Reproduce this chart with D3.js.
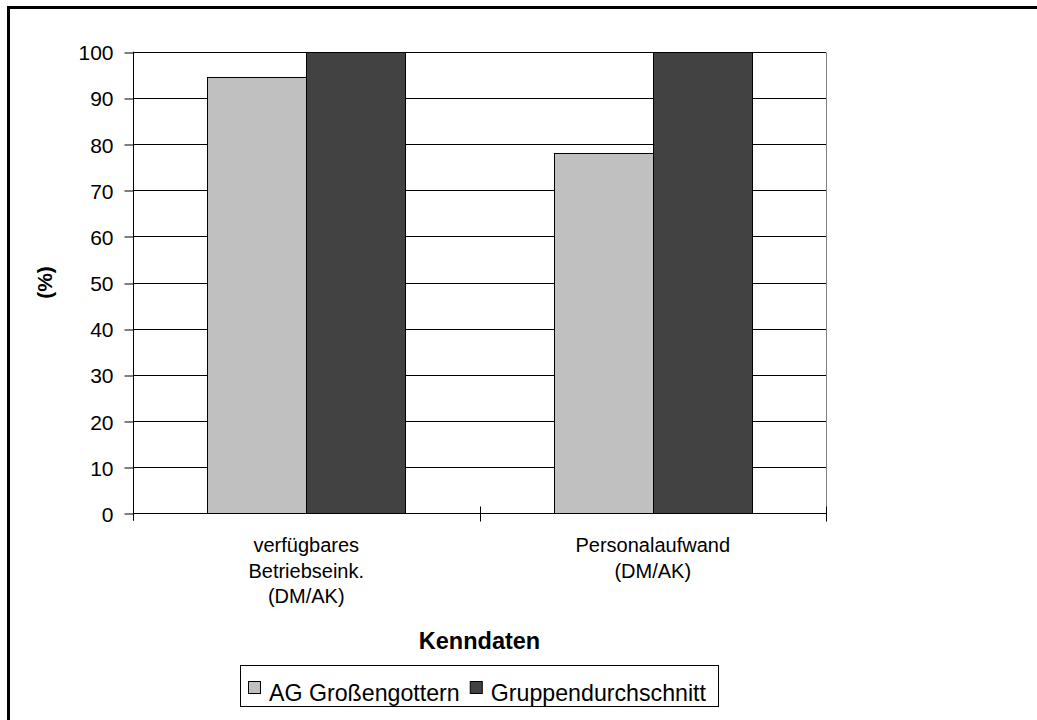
<!DOCTYPE html>
<html>
<head>
<meta charset="utf-8">
<script src="https://cdn.jsdelivr.net/npm/d3@7"></script>
<style>
  html, body { margin: 0; padding: 0; background: #fff; }
  svg { display: block; font-family: "Liberation Sans", Arial, sans-serif; }
</style>
</head>
<body>
<svg id="chart" width="1037" height="720"></svg>
<script>
// Kenndaten im Vergleich zum Gruppendurchschnitt (Gruppendurchschnitt = 100 %)
const categories = [
  ["verfügbares", "Betriebseink.", "(DM/AK)"],
  ["Personalaufwand", "(DM/AK)"]
];
const seriesNames = ["AG Großengottern", "Gruppendurchschnitt"];
const agValues = [94.6, 78.0];
const groupValues = [100, 100];
const yTicks = [0, 10, 20, 30, 40, 50, 60, 70, 80, 90, 100];
const yLabel = "(%)";
const xTitle = "Kenndaten";

const colors = ["#c0c0c0", "#424242"];
const seriesValues = [agValues, groupValues];

const svg = d3.select("#chart");
const W = 1037, H = 720;

// outer frame (only top/left edges fall inside the picture)
svg.append("rect")
  .attr("x", 8.5).attr("y", 7.5)
  .attr("width", W + 20).attr("height", H + 20)
  .attr("fill", "none").attr("stroke", "#000").attr("stroke-width", 3);

const plot = { left: 133, right: 826, top: 51.7, bottom: 513.3 };

const catKeys = categories.map((c, i) => i);
const x0 = d3.scaleBand().domain(catKeys).range([plot.left, plot.right]).paddingInner(0).paddingOuter(0);
const x1 = d3.scaleBand().domain(d3.range(seriesNames.length)).range([0, x0.bandwidth()]).paddingInner(0).paddingOuter(0.75);
const y = d3.scaleLinear().domain([0, 100]).range([plot.bottom, plot.top]);

const crisp = v => Math.round(v) + 0.5;

// gridlines
svg.append("g").selectAll("line").data(yTicks.filter(t => t > 0)).join("line")
  .attr("x1", plot.left).attr("x2", plot.right)
  .attr("y1", d => crisp(y(d))).attr("y2", d => crisp(y(d)))
  .attr("stroke", "#000").attr("stroke-width", 1);

// right edge of plot area
svg.append("line")
  .attr("x1", crisp(plot.right)).attr("x2", crisp(plot.right))
  .attr("y1", crisp(y(100))).attr("y2", crisp(y(0)))
  .attr("stroke", "#808080").attr("stroke-width", 1);

// bars
const bars = svg.append("g");
catKeys.forEach(ci => {
  seriesNames.forEach((s, si) => {
    const v = seriesValues[si][ci];
    const bx = x0(ci) + x1(si);
    bars.append("rect")
      .attr("x", Math.round(bx) + 0.5)
      .attr("y", Math.round(y(v)) + 0.5)
      .attr("width", Math.round(x1.bandwidth()))
      .attr("height", Math.round(y(0)) - Math.round(y(v)))
      .attr("fill", colors[si])
      .attr("stroke", "#000").attr("stroke-width", 1);
  });
});

// y axis
const yAxis = d3.axisLeft(y).tickValues(yTicks).tickSize(9).tickPadding(11).tickFormat(d3.format("d"));
const gy = svg.append("g").attr("transform", `translate(${crisp(plot.left)},0.5)`).call(yAxis);
gy.select(".domain").remove();
gy.append("line").attr("x1", 0).attr("x2", 0).attr("y1", y(100) - 0.5).attr("y2", y(0) + 7).attr("stroke", "#000");
gy.selectAll(".tick line").attr("stroke", "#000").attr("transform", d => `translate(0,${crisp(y(d)) - 0.5 - y(d)})`);
gy.selectAll(".tick text").attr("font-size", 21).attr("fill", "#000")
  .attr("font-family", "Liberation Sans, Arial, sans-serif")
  .attr("dy", "0.36em");

// x axis line and tick marks at category boundaries
const xBounds = [plot.left, ...catKeys.map(i => x0(i) + x0.bandwidth())];
svg.append("line")
  .attr("x1", plot.left).attr("x2", plot.right)
  .attr("y1", crisp(y(0))).attr("y2", crisp(y(0)))
  .attr("stroke", "#000");
svg.append("g").selectAll("line").data(xBounds.slice(1)).join("line")
  .attr("x1", d => crisp(d)).attr("x2", d => crisp(d))
  .attr("y1", crisp(y(0)) - 7).attr("y2", crisp(y(0)) + 8)
  .attr("stroke", "#000");

// category labels
const catG = svg.append("g").attr("font-size", 20).attr("text-anchor", "middle").attr("fill", "#000");
categories.forEach((lines, ci) => {
  const cx = x0(ci) + x0.bandwidth() / 2;
  const t = catG.append("text").attr("x", cx).attr("y", 552);
  lines.forEach((ln, li) => {
    t.append("tspan").attr("x", cx).attr("y", 552 + li * 25.5).text(ln);
  });
});

// axis titles
svg.append("text")
  .attr("x", (plot.left + plot.right) / 2).attr("y", 649)
  .attr("text-anchor", "middle").attr("font-size", 23.5).attr("font-weight", "bold")
  .text(xTitle);

svg.append("text")
  .attr("transform", `translate(52,${(plot.top + plot.bottom) / 2}) rotate(-90)`)
  .attr("text-anchor", "middle").attr("font-size", 21).attr("font-weight", "bold")
  .text(yLabel);

// legend
const lg = svg.append("g");
const box = lg.append("rect").attr("fill", "#fff").attr("stroke", "#000").attr("stroke-width", 1);
let cursor = 0;
const items = [];
seriesNames.forEach((name, i) => {
  const sq = lg.append("rect").attr("width", 12).attr("height", 12)
    .attr("fill", colors[i]).attr("stroke", "#000").attr("stroke-width", 1);
  const tx = lg.append("text").attr("font-size", 23.2).attr("fill", "#000").text(name);
  items.push({ sq, tx, x: cursor });
  const w = tx.node().getComputedTextLength();
  cursor += 21 + w + 10;
});
const lgInner = cursor - 10;
const lgWidth = lgInner + 8 + 12;
const lgLeft = Math.round((plot.left + plot.right) / 2 - lgWidth / 2);
items.forEach(it => {
  it.sq.attr("x", lgLeft + 8.5 + it.x).attr("y", 681.5);
  it.tx.attr("x", lgLeft + 8 + it.x + 21).attr("y", 700.5);
});
box.attr("x", lgLeft + 0.5).attr("y", 665.5).attr("width", lgWidth).attr("height", 41);
</script>
</body>
</html>
